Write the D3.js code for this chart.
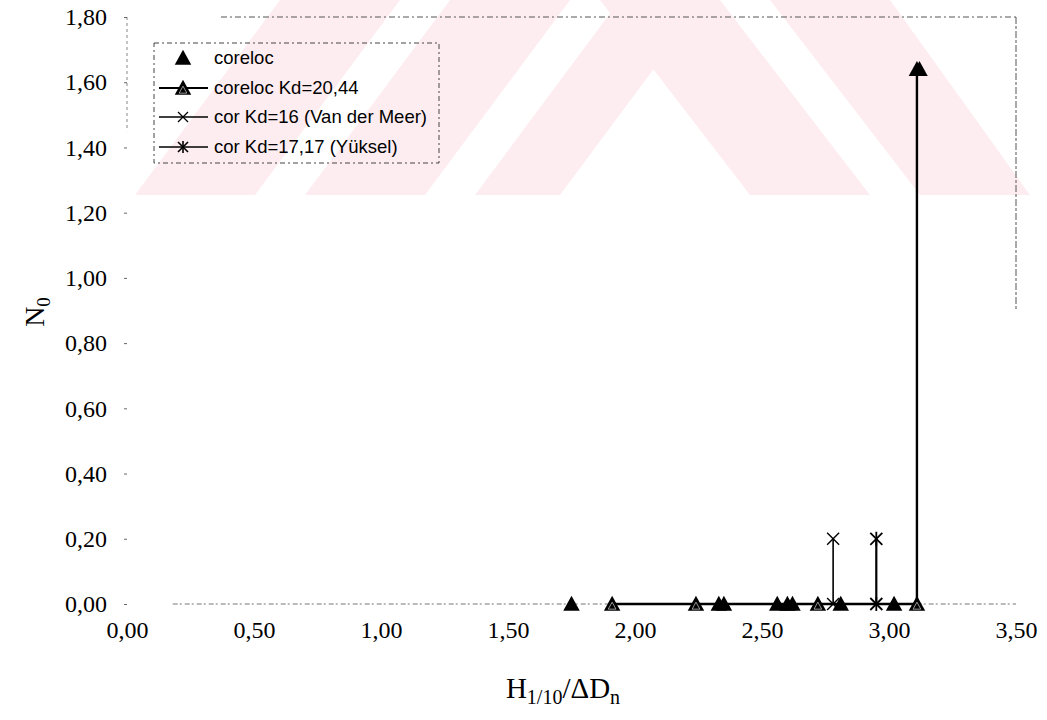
<!DOCTYPE html>
<html>
<head>
<meta charset="utf-8">
<script src="https://cdn.jsdelivr.net/npm/d3@7"></script>
<style>
  html, body { margin: 0; padding: 0; background: #fff; }
  svg { display: block; }
</style>
</head>
<body>
<svg id="chart" width="1047" height="720"></svg>
<script>
// ---- data ----
const xTicks = [0, 0.5, 1.0, 1.5, 2.0, 2.5, 3.0, 3.5];
const yTicks = [0, 0.2, 0.4, 0.6, 0.8, 1.0, 1.2, 1.4, 1.6, 1.8];

// measured: coreloc
const corelocX = [1.75, 2.33, 2.35, 2.56, 2.60, 2.62, 2.81, 3.02, 3.12];
const corelocY = [0, 0, 0, 0, 0, 0, 0, 0, 1.64];
// coreloc Kd=20,44
const kd2044X = [1.91, 2.24, 2.72, 3.11, 3.11];
const kd2044Y = [0, 0, 0, 0, 1.64];
// cor Kd=16 (Van der Meer)
const vdmX = [2.78, 2.78];
const vdmY = [0, 0.20];
// cor Kd=17,17 (Yüksel)
const yukX = [2.95, 2.95];
const yukY = [0, 0.20];

const legendLabels = ["coreloc", "coreloc Kd=20,44", "cor Kd=16 (Van der Meer)", "cor Kd=17,17 (Yüksel)"];

// ---- layout ----
const svg = d3.select("#chart");
const pL = 127, pR = 1016, pT = 17, pB = 604;
const x = d3.scaleLinear().domain([0, 3.5]).range([pL, pR]);
const y = d3.scaleLinear().domain([0, 1.8]).range([pB, pT]);
const fmt = v => d3.format(".2f")(v).replace(".", ",");

// watermark (decorative, scanned thesis background)
const wm = svg.append("g").attr("fill", "#fdedf0");
const bands = [
  [[135,195],[255,195],[400,0],[280,0]],
  [[305,195],[425,195],[570,0],[450,0]],
  [[475,195],[560,195],[705,0],[620,0]],
  [[600,0],[720,0],[870,195],[750,195]],
  [[770,0],[890,0],[1030,195],[920,195]]
];
bands.forEach(b => wm.append("polygon").attr("points", b.map(p => p.join(",")).join(" ")));

// plot frame (faint dashed, scanned look)
const frame = svg.append("g").attr("fill", "none").attr("stroke", "#555").attr("stroke-width", 1);
frame.append("line").attr("x1", x(0.37)).attr("x2", pR).attr("y1", pT).attr("y2", pT)
  .attr("stroke-dasharray", "6,3,2,3");
frame.append("line").attr("x1", pR).attr("x2", pR).attr("y1", pT).attr("y2", y(0.9))
  .attr("stroke-dasharray", "7,2,3,2");
frame.append("line").attr("x1", pL).attr("x2", pL).attr("y1", pT).attr("y2", y(1.45))
  .attr("stroke-dasharray", "3,3").attr("stroke", "#888");
frame.append("line").attr("x1", x(0.18)).attr("x2", pR).attr("y1", pB).attr("y2", pB)
  .attr("stroke-dasharray", "5,2,2,3").attr("stroke", "#777");

const serif = "'Liberation Serif', 'Times New Roman', serif";

// y axis
const yAxis = d3.axisLeft(y).tickValues(yTicks).tickFormat(fmt).tickSize(3).tickPadding(17);
const gy = svg.append("g").attr("transform", `translate(${pL},0)`).call(yAxis);
gy.select(".domain").remove();
gy.selectAll(".tick line").attr("stroke", "#666");
gy.selectAll("text").attr("font-family", serif).attr("font-size", 24).attr("fill", "#000");

// x axis
const xAxis = d3.axisBottom(x).tickValues(xTicks).tickFormat(fmt).tickSize(0).tickPadding(17);
const gx = svg.append("g").attr("transform", `translate(0,${pB})`).call(xAxis);
gx.select(".domain").remove();
gx.selectAll("text").attr("font-family", serif).attr("font-size", 24).attr("fill", "#000");

// axis titles
const yt = svg.append("text").attr("transform", "translate(44,312) rotate(-90)")
  .attr("text-anchor", "middle").attr("font-family", serif).attr("font-size", 28);
yt.append("tspan").text("N");
yt.append("tspan").attr("font-size", 19).attr("dy", 6).text("0");

const xt = svg.append("text").attr("x", 563).attr("y", 698)
  .attr("text-anchor", "middle").attr("font-family", serif).attr("font-size", 29);
xt.append("tspan").text("H");
xt.append("tspan").attr("font-size", 20).attr("dy", 6).text("1/10");
xt.append("tspan").attr("dy", -6).text("/ΔD");
xt.append("tspan").attr("font-size", 20).attr("dy", 6).text("n");

// ---- marker helpers ----
const triPath = (s) => `M0,${-s*0.55}L${s*0.55},${s*0.45}L${-s*0.55},${s*0.45}Z`;
function drawTriangle(g, cx, cy, patterned) {
  const t = g.append("g").attr("transform", `translate(${cx},${cy})`);
  t.append("path").attr("d", triPath(15)).attr("fill", "#000");
  if (patterned) {
    t.append("path").attr("d", triPath(7)).attr("transform", "translate(0,2)")
      .attr("fill", "none").attr("stroke", "#bbb").attr("stroke-width", 0.8);
  }
}
function drawCross(g, cx, cy, s, w) {
  const t = g.append("g").attr("transform", `translate(${cx},${cy})`)
    .attr("stroke", "#000").attr("stroke-width", w);
  t.append("line").attr("x1", -s).attr("y1", -s).attr("x2", s).attr("y2", s);
  t.append("line").attr("x1", -s).attr("y1", s).attr("x2", s).attr("y2", -s);
}
function drawStar(g, cx, cy, s, w) {
  drawCross(g, cx, cy, s, w);
  g.append("line").attr("x1", cx).attr("x2", cx).attr("y1", cy - s - 1).attr("y2", cy + s + 1)
    .attr("stroke", "#000").attr("stroke-width", w);
}

const line = d3.line().x(d => x(d[0])).y(d => y(d[1]));
const plot = svg.append("g");

// series lines
const kdPts = d3.zip(kd2044X, kd2044Y);
plot.append("path").attr("d", line(kdPts)).attr("fill", "none").attr("stroke", "#000").attr("stroke-width", 2.4);
const vdmPts = d3.zip(vdmX, vdmY);
plot.append("path").attr("d", line(vdmPts)).attr("fill", "none").attr("stroke", "#000").attr("stroke-width", 1.6);
const yukPts = d3.zip(yukX, yukY);
plot.append("path").attr("d", line(yukPts)).attr("fill", "none").attr("stroke", "#000").attr("stroke-width", 2.2);

// markers
kdPts.forEach(p => drawTriangle(plot, x(p[0]), y(p[1]), p[1] === 0));
d3.zip(corelocX, corelocY).forEach(p => drawTriangle(plot, x(p[0]), y(p[1]), false));
vdmPts.forEach(p => drawCross(plot, x(p[0]), y(p[1]), 6, 1.4));
yukPts.forEach(p => drawStar(plot, x(p[0]), y(p[1]), 6, 1.8));

// ---- legend ----
const lg = svg.append("g");
lg.append("rect").attr("x", 154).attr("y", 43).attr("width", 285).attr("height", 120)
  .attr("fill", "none").attr("stroke", "#444").attr("stroke-width", 1).attr("stroke-dasharray", "5,3,2,3");
const rowsY = [58, 88, 117, 147];
const mx = 183;
legendLabels.forEach((lab, i) => {
  const ry = rowsY[i];
  if (i > 0) {
    lg.append("line").attr("x1", 159).attr("x2", 208).attr("y1", ry).attr("y2", ry)
      .attr("stroke", "#000").attr("stroke-width", i === 1 ? 2.2 : 1.6);
  }
  if (i === 0) drawTriangle(lg, mx, ry, false);
  if (i === 1) drawTriangle(lg, mx, ry, true);
  if (i === 2) drawCross(lg, mx, ry, 5, 1.2);
  if (i === 3) drawStar(lg, mx, ry, 5, 1.6);
  lg.append("text").attr("x", 214).attr("y", ry).attr("dy", "0.35em")
    .attr("font-family", "'Liberation Sans', Arial, sans-serif").attr("font-size", 18.5)
    .attr("fill", "#000").text(lab);
});
</script>
</body>
</html>
